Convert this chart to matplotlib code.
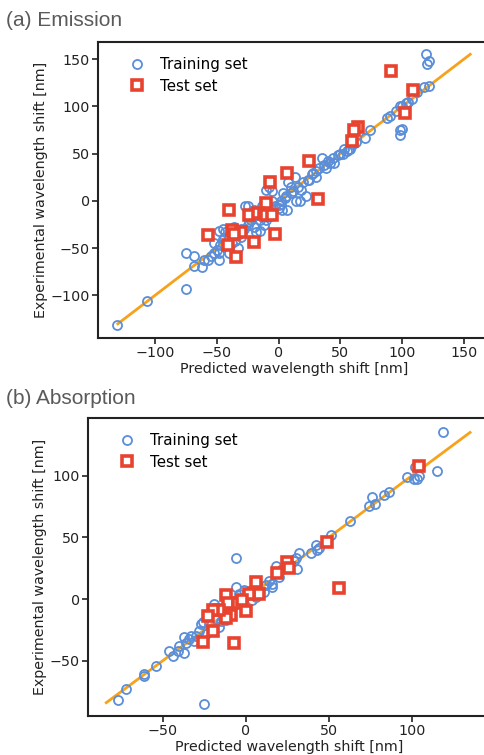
import matplotlib
matplotlib.use("Agg")
import matplotlib.pyplot as plt
from matplotlib.lines import Line2D

# ---------------- data: (a) Emission ----------------
em_train_pred = [-131, -106, -75, -75, -68, -68, -62, -60, -57, -55, -52, -50, -48, -47, -45,
                 -48, -45, -43, -40, -40, -48, -35, -33, -30, -28, -27, -25, -22, -20, -18,
                 -15, -12, -10, -8, -10, -8, -5, -5, -3, 0, 2, 5, 3, 7, 8, 10, 12, 13, 14,
                 17, 18, 20, 22, 25, 28, 30, 33, 35, 37, 40, 42, 45, 48, 50, 53, 55, 58, 60,
                 70, 74, 88, 90, 95, 98, 100, 103, 105, 108, 112, 118, 122, 98, 100, 98,
                 119, 120, 122, -38, -32, -25, -20, -15, -13, -18, -6, 2, 6, 10, 16, 24,
                 30, 38, 44, 52, 57, -52, -44, -36, -30, -24, 0, 4, 27, 63]
em_train_exp = [-131, -106, -93, -55, -58, -69, -70, -63, -62, -58, -55, -52, -55, -47, -40,
                -32, -30, -33, -38, -55, -63, -42, -50, -30, -30, -5, -5, -20, -28, -33,
                -32, -25, -20, -10, 12, 15, 10, 0, -5, -8, 0, 3, -10, -10, 20, 15, 10, 25,
                0, 0, 12, 20, 5, 22, 30, 32, 35, 45, 38, 42, 40, 40, 48, 50, 55, 53, 55, 60,
                67, 75, 88, 90, 95, 100, 100, 103, 105, 108, 115, 120, 122, 75, 76, 70,
                155, 145, 148, -45, -35, -25, -10, -20, -5, -15, -8, -3, 5, 8, 15, 22,
                25, 35, 45, 50, 55, -45, -40, -28, -38, -22, -4, 8, 28, 62]
em_test_pred = [91, 109, 102, 64, 61, 59, 25, 7, -7, 32, -40, -10, -24, -17, -12, -10, -5,
                -57, -38, -30, -36, -3, -41, -20, -34]
em_test_exp = [137, 117, 93, 78, 75, 63, 42, 30, 20, 2, -10, -2, -15, -13, -14, -15, -15,
               -36, -31, -33, -35, -35, -47, -44, -59]

# ---------------- data: (b) Absorption ----------------
ab_train_pred = [-77, -72, -61, -61, -54, -46, -44, -41, -37, -37, -36, -34, -31, -28, -27,
                 -26, -25, -19, -16, -14, -12, -6, -6, -4, -1, 4, 6, 11, 12, 14, 16, 18, 16,
                 26, 29, 30, 31, 32, 39, 42, 43, 44, 51, 63, 74, 76, 78, 83, 86, 97, 101,
                 102, 104, 103, 115, 119, -30, -22, -18, -10, -8, -2, 2, 8, 20, 22, -40,
                 -33, -24, -15]
ab_train_exp = [-82, -73, -62, -61, -54, -42, -46, -42, -31, -44, -36, -32, -34, -26, -20,
                -19, -85, -4, -23, -16, -17, 33, 10, 4, 7, -1, 2, 6, 11, 15, 12, 27, 10,
                26, 31, 33, 24, 37, 37, 44, 40, 41, 52, 63, 75, 83, 77, 84, 87, 99, 97,
                107, 100, 97, 104, 135, -30, -20, -16, -12, -6, 0, 3, 6, 18, 24, -38,
                -30, -28, -18]
ab_test_pred = [104, 49, 56, 25, 26, 19, 6, 5, 8, 2, -12, -11, -5, -2, 0, -9, -12, -16,
                -20, -23, -20, -26, -7]
ab_test_exp = [108, 46, 9, 30, 25, 21, 14, 5, 4, 4, 3, -3, -3, -1, -10, -13, -15, -9,
               -9, -14, -26, -35, -36]

plt.rcParams['font.family'] = ['DejaVu Sans']

BLUE = '#5b8ed8'
RED = '#e8432f'
ORANGE = '#f7a21b'
W, H = 485, 755
fig = plt.figure(figsize=(W / 100, H / 100), dpi=100)


def px_axes(left, top, right, bottom):
    return fig.add_axes([left / W, 1 - bottom / H, (right - left) / W, (bottom - top) / H])


def panel(ax, tp, te, sp, se, line_lo, line_hi, xlim, ylim, xticks, yticks):
    ax.plot([line_lo, line_hi], [line_lo, line_hi], color=ORANGE, lw=2, zorder=1)
    ax.plot(tp, te, 'o', mfc='none', mec=BLUE, mew=1.3, ms=6.5, ls='none', zorder=2)
    ax.plot(sp, se, 's', mfc='white', mec=RED, mew=2.6, ms=7, ls='none', zorder=3)
    ax.set_xlim(*xlim)
    ax.set_ylim(*ylim)
    ax.set_xticks(xticks)
    ax.set_yticks(yticks)
    for s in ['top', 'right', 'left', 'bottom']:
        ax.spines[s].set_linewidth(1.5)
        ax.spines[s].set_color('#222222')
    ax.tick_params(direction='out', length=4, width=1.2, labelsize=10.3, colors='#222222',
                   pad=2)
    ax.set_xlabel('Predicted wavelength shift [nm]', fontsize=10.3, labelpad=1, color='#222222')
    ax.set_ylabel('Experimental wavelength shift [nm]', fontsize=10.3, labelpad=2, color='#222222')
    handles = [
        Line2D([], [], marker='o', mfc='none', mec=BLUE, mew=1.3, ms=6.5, ls='none'),
        Line2D([], [], marker='s', mfc='white', mec=RED, mew=2.6, ms=7, ls='none'),
    ]
    ax.legend(handles, ['Training set', 'Test set'], loc='upper left', frameon=False,
              fontsize=10.8, handletextpad=0.55, labelspacing=0.45, borderaxespad=0.4,
              bbox_to_anchor=(0.03, 0.99))


ax1 = px_axes(98, 42, 490, 338)
panel(ax1, em_train_pred, em_train_exp, em_test_pred, em_test_exp, -130, 155,
      (-146, 171), (-145, 168), [-100, -50, 0, 50, 100, 150], [-100, -50, 0, 50, 100, 150])

ax2 = px_axes(88, 418, 490, 716)
panel(ax2, ab_train_pred, ab_train_exp, ab_test_pred, ab_test_exp, -84, 135,
      (-95, 147), (-94.8, 146.7), [-50, 0, 50, 100], [-50, 0, 50, 100])

fig.text(6 / W, 1 - 20 / H, '(a) Emission', fontsize=15, color='#5a5a5a',
         family='Liberation Sans', va='center', ha='left')
fig.text(6 / W, 1 - 398 / H, '(b) Absorption', fontsize=15, color='#5a5a5a',
         family='Liberation Sans', va='center', ha='left')

fig.savefig('out.png', dpi=100)
